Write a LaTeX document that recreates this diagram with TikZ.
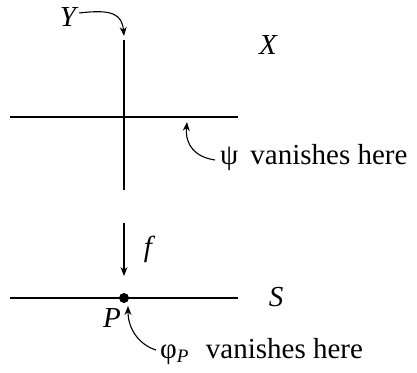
\documentclass[tikz,border=0pt]{standalone}
\usepackage{fontspec}
\setmainfont{Liberation Serif}
\usetikzlibrary{arrows.meta}
\begin{document}
\begin{tikzpicture}[x=1pt,y=-1pt,
  ln/.style={line width=1.1pt},
  arr/.style={line width=1.1pt,-{Stealth[length=9pt,width=7pt]}},
  lbl/.style={font=\fontsize{29}{33}\selectfont,inner sep=0pt}]
\useasboundingbox (0,0) rectangle (417,372);
% top picture
\coordinate (vt) at (124,40);
\coordinate (vb) at (124,190);
\coordinate (hl) at (10,117);
\coordinate (hr) at (238,117);
\draw[ln] (vt) -- (vb);
\draw[ln] (hl) -- (hr);
\node[lbl] (Y) at (68,17) {\itshape Y};
\node[lbl] (X) at (268,45) {\itshape X};
\coordinate (ytip) at (124,36);
\draw[arr] (Y.east) ++(3,-4) coordinate (ys) .. controls (112,9) and (122,14) .. (ytip);
\node[lbl,anchor=west] (psi) at (220,158) {ψ\, vanishes here};
\coordinate (psitip) at (187,122);
\draw[arr] (psi.west) ++(-5,2) .. controls (195,157) and (185,145) .. (psitip);
% map
\coordinate (ft) at (124,223);
\coordinate (fb) at (124,276);
\draw[arr] (ft) -- (fb);
\node[lbl] (f) at (148,249) {\itshape f};
% bottom
\coordinate (bl) at (10,298);
\coordinate (br) at (238,298);
\draw[ln] (bl) -- (br);
\node[circle,fill=black,inner sep=0pt,minimum size=10pt] (P0) at (124,298) {};
\node[lbl] (S) at (276,297) {\itshape S};
\node[lbl] (P) at (112,318) {\itshape P};
\node[lbl,anchor=west] (phi) at (160,352) {φ$_{\mbox{\fontsize{19}{22}\selectfont\itshape P}}$\,\, vanishes here};
\coordinate (phitip) at (128,306);
\draw[arr] (phi.west) ++(-4,-2) .. controls (140,345) and (128,330) .. (phitip);
\end{tikzpicture}
\end{document}
